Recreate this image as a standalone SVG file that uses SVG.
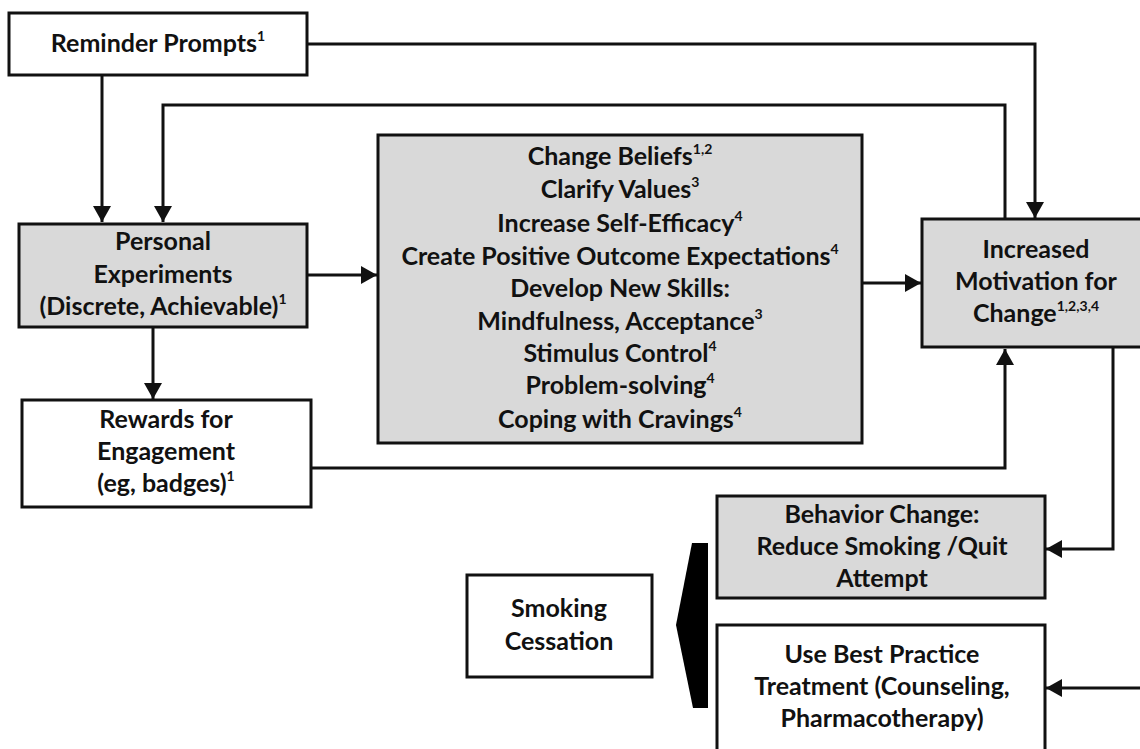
<svg xmlns="http://www.w3.org/2000/svg" width="1140" height="749" viewBox="0 0 1140 749">
<style>
.box{stroke:#111;stroke-width:3}
.w{fill:#fff}
.g{fill:#d9d9d9}
.t{font-family:Lato,"Open Sans","Liberation Sans",sans-serif;font-weight:bold;font-size:25px;fill:#111;text-anchor:middle}
.s{font-size:14px}
.c{fill:none;stroke:#111;stroke-width:3}
</style>
<defs>
<marker id="ah" viewBox="0 0 16 18" refX="16" refY="9" markerWidth="16" markerHeight="18" markerUnits="userSpaceOnUse" orient="auto">
<path d="M0,0 L16,9 L0,18 z" fill="#111"/>
</marker>
</defs>
<rect width="1140" height="749" fill="#fff"/>
<g id="connectors">
<path class="c" d="M306,44 H1035 V218" marker-end="url(#ah)"/>
<path class="c" d="M102,75 V222" marker-end="url(#ah)"/>
<path class="c" d="M1005,219 V105 H163 V222" marker-end="url(#ah)"/>
<path class="c" d="M307,275 H377" marker-end="url(#ah)"/>
<path class="c" d="M153,327 V399" marker-end="url(#ah)"/>
<path class="c" d="M311,468 H1005 V349" marker-end="url(#ah)"/>
<path class="c" d="M862,283 H921" marker-end="url(#ah)"/>
<path class="c" d="M1113,347 V549 H1046" marker-end="url(#ah)"/>
<path class="c" d="M1140,688 H1046" marker-end="url(#ah)"/>
</g>
<g id="reminder">
<rect class="box w" x="9" y="13" width="298" height="62"/>
<text class="t" x="158" y="52">Reminder Prompts<tspan class="s" dy="-11">1</tspan></text>
</g>
<g id="experiments">
<rect class="box g" x="19" y="224" width="288" height="103"/>
<text class="t" x="163" y="250">Personal</text>
<text class="t" x="163" y="283">Experiments</text>
<text class="t" x="163" y="315">(Discrete, Achievable)<tspan class="s" dy="-11">1</tspan></text>
</g>
<g id="rewards">
<rect class="box w" x="22" y="400" width="289" height="107"/>
<text class="t" x="166" y="428">Rewards for</text>
<text class="t" x="166" y="460">Engagement</text>
<text class="t" x="166" y="492">(eg, badges)<tspan class="s" dy="-11">1</tspan></text>
</g>
<g id="strategies">
<rect class="box g" x="378" y="135" width="484" height="308"/>
<text class="t" x="620" y="165">Change Beliefs<tspan class="s" dy="-11">1,2</tspan></text>
<text class="t" x="620" y="198">Clarify Values<tspan class="s" dy="-11">3</tspan></text>
<text class="t" x="620" y="232">Increase Self-Efficacy<tspan class="s" dy="-11">4</tspan></text>
<text class="t" x="620" y="265">Create Positive Outcome Expectations<tspan class="s" dy="-11">4</tspan></text>
<text class="t" x="620" y="297">Develop New Skills:</text>
<text class="t" x="620" y="330">Mindfulness, Acceptance<tspan class="s" dy="-11">3</tspan></text>
<text class="t" x="620" y="362">Stimulus Control<tspan class="s" dy="-11">4</tspan></text>
<text class="t" x="620" y="394">Problem-solving<tspan class="s" dy="-11">4</tspan></text>
<text class="t" x="620" y="428">Coping with Cravings<tspan class="s" dy="-11">4</tspan></text>
</g>
<g id="motivation">
<rect class="box g" x="922" y="219" width="230" height="128"/>
<text class="t" x="1036" y="258">Increased</text>
<text class="t" x="1036" y="290">Motivation for</text>
<text class="t" x="1036" y="322">Change<tspan class="s" dy="-11">1,2,3,4</tspan></text>
</g>
<g id="behavior">
<rect class="box g" x="717" y="496" width="328" height="102"/>
<text class="t" x="882" y="523">Behavior Change:</text>
<text class="t" x="882" y="555">Reduce Smoking /Quit</text>
<text class="t" x="882" y="587">Attempt</text>
</g>
<g id="cessation">
<rect class="box w" x="467" y="575" width="185" height="102"/>
<text class="t" x="559" y="617">Smoking</text>
<text class="t" x="559" y="650">Cessation</text>
</g>
<g id="brace">
<polygon points="692,543 708,543 708,708 693,708 676,625" fill="#000"/>
</g>
<g id="treatment">
<rect class="box w" x="717" y="625" width="328" height="140"/>
<text class="t" x="882" y="663">Use Best Practice</text>
<text class="t" x="882" y="695">Treatment (Counseling,</text>
<text class="t" x="882" y="727">Pharmacotherapy)</text>
</g>
</svg>
